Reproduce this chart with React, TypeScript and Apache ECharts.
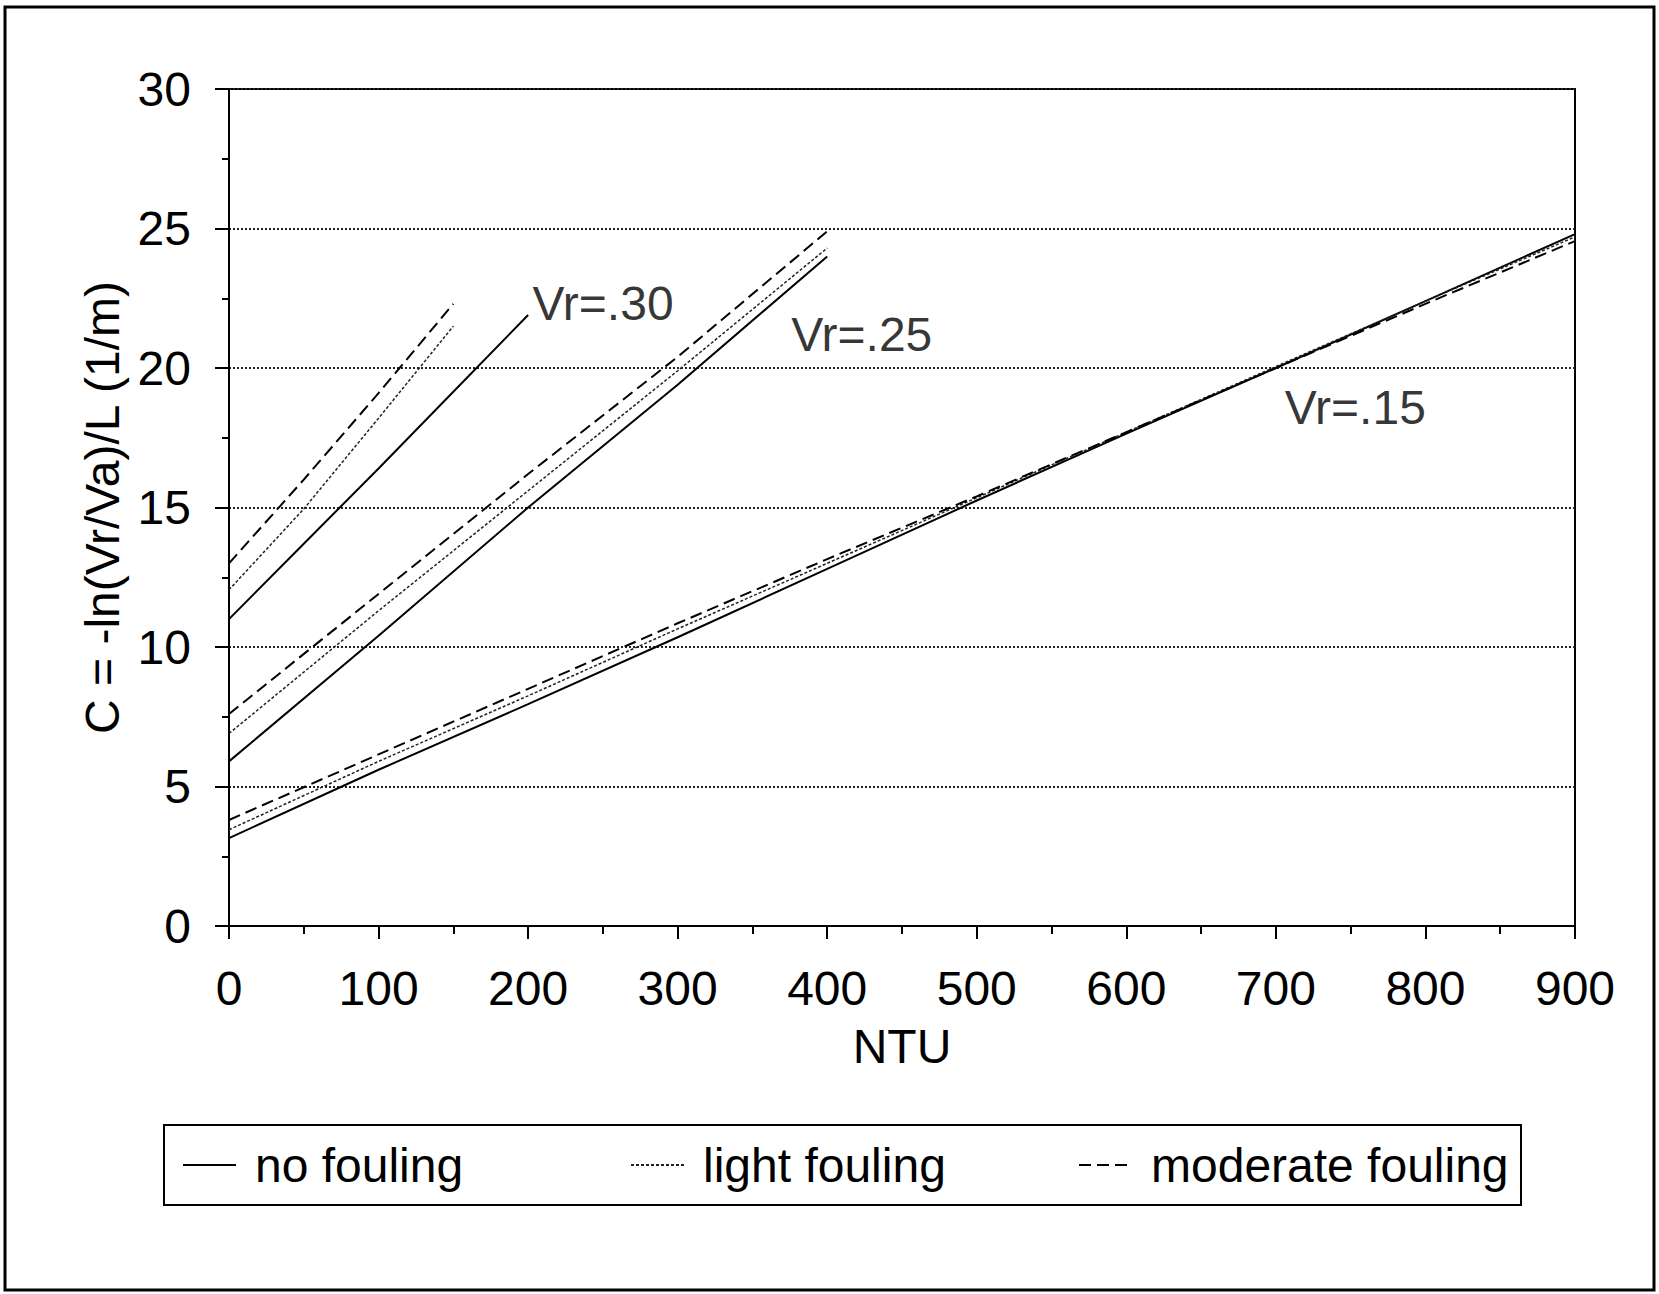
import React, { useEffect, useRef } from "react";
import * as echarts from "echarts";

// ---- data ----
const ntuVr15 = [0, 100, 200, 300, 400, 500, 600, 700, 800, 900];
const vr15NoFouling = [3.15, 5.6, 7.95, 10.35, 12.8, 15.25, 17.65, 20.0, 22.4, 24.8];
const vr15LightFouling = [3.45, 5.9, 8.25, 10.65, 13.0, 15.35, 17.7, 20.05, 22.4, 24.7];
const vr15ModerateFouling = [3.8, 6.15, 8.5, 10.85, 13.15, 15.4, 17.7, 20.0, 22.3, 24.55];

const ntuVr25 = [0, 100, 200, 300, 400];
const vr25NoFouling = [5.9, 10.4, 15.0, 19.4, 24.0];
const vr25LightFouling = [6.9, 11.3, 15.6, 19.9, 24.3];
const vr25ModerateFouling = [7.6, 11.9, 16.2, 20.4, 24.9];

const ntuVr30None = [0, 50, 100, 150, 200];
const vr30NoFouling = [11.0, 13.7, 16.4, 19.15, 21.9];
const ntuVr30Fouled = [0, 50, 100, 150];
const vr30LightFouling = [12.05, 14.95, 18.2, 21.5];
const vr30ModerateFouling = [13.0, 16.0, 19.1, 22.3];

const legendNames = ["no fouling", "light fouling", "moderate fouling"];

const curveLabels = ["Vr=.30", "Vr=.25", "Vr=.15"];
const curveLabelNtu = [203, 376, 706];
const curveLabelC = [22.3, 21.2, 18.6];

const xTitle = "NTU";
const yTitle = "C = -ln(Vr/Va)/L (1/m)";

const FONT = "'Liberation Sans', Arial, sans-serif";

function pairs(xs: number[], ys: number[]) {
  return xs.map((x, i) => [x, ys[i]]);
}

const lineStyles: Record<string, any> = {
  "no fouling": { type: "solid", width: 2, color: "#000" },
  "light fouling": { type: [3, 2], width: 1.5, color: "#222" },
  "moderate fouling": { type: [12, 6], width: 2, color: "#000" },
};

function lineSeries(name: string, xs: number[], ys: number[]) {
  return {
    type: "line",
    name,
    data: pairs(xs, ys),
    symbol: "none",
    showSymbol: false,
    smooth: false,
    lineStyle: lineStyles[name],
    itemStyle: { color: lineStyles[name].color },
    silent: true,
    z: 3,
  };
}

export default function App() {
  const ref = useRef<HTMLDivElement>(null);

  useEffect(() => {
    if (!ref.current) return;
    const chart = echarts.init(ref.current, undefined, { renderer: "svg" });

    const series: any[] = [
      lineSeries("no fouling", ntuVr15, vr15NoFouling),
      lineSeries("light fouling", ntuVr15, vr15LightFouling),
      lineSeries("moderate fouling", ntuVr15, vr15ModerateFouling),
      lineSeries("no fouling", ntuVr25, vr25NoFouling),
      lineSeries("light fouling", ntuVr25, vr25LightFouling),
      lineSeries("moderate fouling", ntuVr25, vr25ModerateFouling),
      lineSeries("no fouling", ntuVr30None, vr30NoFouling),
      lineSeries("light fouling", ntuVr30Fouled, vr30LightFouling),
      lineSeries("moderate fouling", ntuVr30Fouled, vr30ModerateFouling),
      {
        type: "scatter",
        name: "curve labels",
        data: curveLabels.map((t, i) => ({ value: [curveLabelNtu[i], curveLabelC[i]], name: t })),
        symbolSize: 0,
        silent: true,
        z: 4,
        label: {
          show: true,
          position: "right",
          distance: 0,
          formatter: (p: any) => p.name,
          fontFamily: FONT,
          fontSize: 48,
          color: "#000",
        },
      },
    ];

    chart.setOption({
      animation: false,
      backgroundColor: "#fff",
      textStyle: { fontFamily: FONT, color: "#000" },
      grid: {
        left: 229,
        right: 84,
        top: 89,
        bottom: 368,
        show: true,
        borderColor: "#000",
        borderWidth: 2,
        containLabel: false,
      },
      xAxis: {
        type: "value",
        min: 0,
        max: 900,
        interval: 100,
        name: xTitle,
        nameLocation: "middle",
        nameGap: 96,
        nameTextStyle: { fontFamily: FONT, fontSize: 48, color: "#000" },
        axisLine: { show: true, lineStyle: { color: "#000", width: 2 } },
        axisTick: { show: true, inside: false, length: 13, lineStyle: { color: "#000", width: 2 } },
        minorTick: { show: true, splitNumber: 2, length: 8, lineStyle: { color: "#000", width: 2 } },
        axisLabel: { margin: 38, fontFamily: FONT, fontSize: 48, color: "#000" },
        splitLine: { show: false },
      },
      yAxis: {
        type: "value",
        min: 0,
        max: 30,
        interval: 5,
        name: yTitle,
        nameLocation: "middle",
        nameRotate: 90,
        nameGap: 95,
        nameTextStyle: { fontFamily: FONT, fontSize: 48, color: "#000" },
        axisLine: { show: true, lineStyle: { color: "#000", width: 2 } },
        axisTick: { show: true, inside: false, length: 14, lineStyle: { color: "#000", width: 2 } },
        minorTick: { show: true, splitNumber: 2, length: 7, lineStyle: { color: "#000", width: 2 } },
        axisLabel: { margin: 38, fontFamily: FONT, fontSize: 48, color: "#000" },
        splitLine: { show: true, lineStyle: { color: "#222", width: 2, type: [2, 2] } },
      },
      legend: {
        data: legendNames.map((n) => ({ name: n, itemStyle: { opacity: 0 } })),
        orient: "horizontal",
        left: 164,
        top: 1125,
        padding: [16, 5, 16, 18],
        itemGap: 10,
        itemWidth: 53,
        itemHeight: 20,
        borderColor: "#000",
        borderWidth: 2,
        selectedMode: false,
        itemStyle: { opacity: 0, borderWidth: 0 },
        textStyle: {
          fontFamily: FONT,
          fontSize: 48,
          lineHeight: 48,
          color: "#000",
          width: 365,
          padding: [0, 0, 0, 14],
        },
      },
      graphic: [
        {
          type: "rect",
          shape: { x: 5, y: 7, width: 1649, height: 1283 },
          style: { fill: "none", stroke: "#000", lineWidth: 3 },
          silent: true,
          z: 0,
        },
      ],
      series,
    });

    return () => chart.dispose();
  }, []);

  return (
    <div
      ref={ref}
      style={{ position: "absolute", left: 0, top: 0, width: 1659, height: 1294, background: "#fff" }}
    />
  );
}
